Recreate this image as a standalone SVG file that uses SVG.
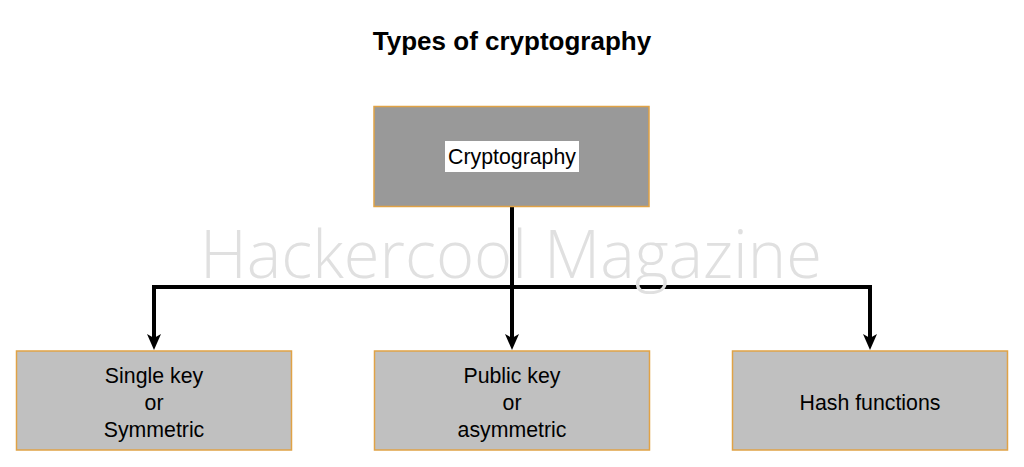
<svg xmlns="http://www.w3.org/2000/svg" width="1024" height="467" viewBox="0 0 1024 467">
  <defs>
    <style>
      .box { stroke: #e0a246; stroke-width: 1.5; }
      .top { fill: #999999; }
      .sub { fill: #c0c0c0; }
      .lbl { font-family: "Liberation Sans", Arial, sans-serif; font-size: 21.3px; fill: #000; text-anchor: middle; }
      .conn { fill: none; stroke: #000; stroke-width: 4; stroke-linejoin: miter; }
    </style>
    <marker id="arr" markerUnits="userSpaceOnUse" viewBox="0 0 16 14" refX="4" refY="7" markerWidth="16" markerHeight="14" orient="auto">
      <path d="M0,0 L16,7 L0,14 L4,7 z" fill="#000"/>
    </marker>
  </defs>
  <rect width="1024" height="467" fill="#fff"/>
  <text x="512" y="50" font-family="Liberation Sans, Arial, sans-serif" font-size="26" font-weight="bold" text-anchor="middle">Types of cryptography</text>

  <g id="connectors">
    <path class="conn" d="M512,206 V287 H154 V338" marker-end="url(#arr)"/>
    <path class="conn" d="M512,206 V338" marker-end="url(#arr)"/>
    <path class="conn" d="M512,206 V287 H870 V338" marker-end="url(#arr)"/>
  </g>

  <g id="cryptography">
    <rect class="box top" x="374" y="106.5" width="275" height="100"/>
    <rect x="445" y="141" width="134" height="31" fill="#fff"/>
    <text class="lbl" x="512" y="164">Cryptography</text>
  </g>

  <g id="symmetric">
    <rect class="box sub" x="16.5" y="351" width="275" height="99"/>
    <text class="lbl" x="154" y="383">Single key</text>
    <text class="lbl" x="154" y="410">or</text>
    <text class="lbl" x="154" y="437">Symmetric</text>
  </g>

  <g id="asymmetric">
    <rect class="box sub" x="374.5" y="351" width="275" height="99"/>
    <text class="lbl" x="512" y="383">Public key</text>
    <text class="lbl" x="512" y="410">or</text>
    <text class="lbl" x="512" y="437">asymmetric</text>
  </g>

  <g id="hash">
    <rect class="box sub" x="732.5" y="351" width="275" height="99"/>
    <text class="lbl" x="870" y="410">Hash functions</text>
  </g>

  <text x="511" y="278" font-family="Open Sans, sans-serif" font-size="67" font-weight="300" fill="#e0e0e0" text-anchor="middle" textLength="622" lengthAdjust="spacingAndGlyphs">Hackercool Magazine</text>
</svg>
